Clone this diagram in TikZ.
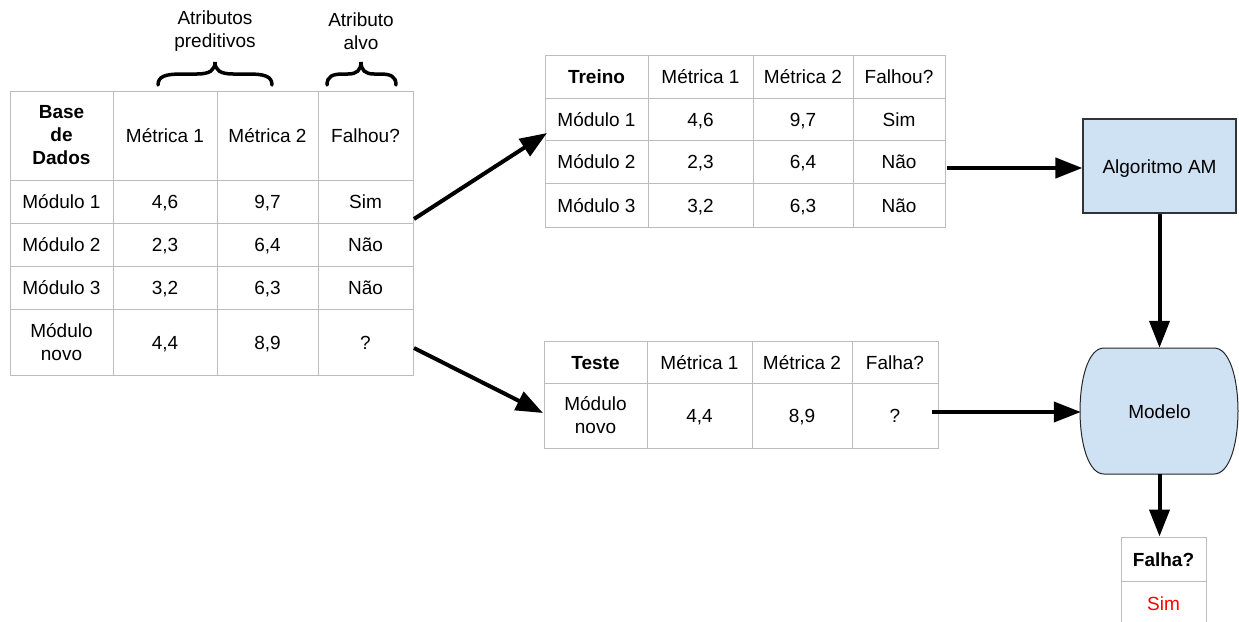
\documentclass[tikz,border=0pt]{standalone}
\usepackage{fontspec}
\setmainfont{Liberation Sans}
\usetikzlibrary{arrows.meta}
\definecolor{tblgray}{RGB}{188,188,188}
\definecolor{boxblue}{RGB}{207,226,243}
\definecolor{redtxt}{RGB}{255,0,0}
\newcommand\tcell[6]{\node[cell, minimum width={(#4-#2)*1pt}, minimum height={(#5-#3)*1pt}] (#1) at ({(#2+#4)/2},{(#3+#5)/2}) {#6};}
\newcommand\mcell[6]{\node[cell, mline, minimum width={(#4-#2)*1pt}, minimum height={(#5-#3)*1pt}] (#1) at ({(#2+#4)/2},{(#3+#5)/2}) {#6};}
\begin{document}
\begin{tikzpicture}[x=1pt,y=-1pt,
  every node/.style={font=\fontsize{19}{23}\selectfont, text=black},
  cell/.style={draw=tblgray, line width=1pt, inner sep=0pt, align=center, anchor=center, text height=14pt, text depth=0pt},
  mline/.style={text height=, text depth=},
  bigarrow/.style={line width=4pt, -{Triangle[length=27pt,width=20pt]}},
  bracestyle/.style={line width=3.5pt, line cap=round},
  labeltext/.style={align=center, inner sep=0pt}
]
\useasboundingbox (0,0) rectangle (1239,621);

% ---- braces and labels
\node[labeltext] (lblpred) at (215,31) {Atributos\\preditivos};
\node[labeltext] (lblalvo) at (361,31) {Atributo\\alvo};
\draw[bracestyle] (158,85) .. controls (158,76) and (166,74) .. (182,74) -- (197,74) .. controls (210,74) and (215,70) .. (215,62) .. controls (215,70) and (220,74) .. (233,74) -- (248,74) .. controls (264,74) and (272,76) .. (272,85);
\draw[bracestyle] (327,85) .. controls (327,76) and (333,74) .. (343,74) -- (348,74) .. controls (357,74) and (361,70) .. (361,62) .. controls (361,70) and (365,74) .. (374,74) -- (380,74) .. controls (390,74) and (396,76) .. (396,85);

% ---- left table (Base de Dados)
\mcell{d00}{10}{91}{113}{180}{\textbf{Base}\\\textbf{de}\\\textbf{Dados}}
\tcell{d01}{113}{91}{217}{180}{Métrica 1}
\tcell{d02}{217}{91}{318}{180}{Métrica 2}
\tcell{d03}{318}{91}{413}{180}{Falhou?}
\tcell{d10}{10}{180}{113}{223}{Módulo 1}
\tcell{d11}{113}{180}{217}{223}{4,6}
\tcell{d12}{217}{180}{318}{223}{9,7}
\tcell{d13}{318}{180}{413}{223}{Sim}
\tcell{d20}{10}{223}{113}{266}{Módulo 2}
\tcell{d21}{113}{223}{217}{266}{2,3}
\tcell{d22}{217}{223}{318}{266}{6,4}
\tcell{d23}{318}{223}{413}{266}{Não}
\tcell{d30}{10}{266}{113}{309}{Módulo 3}
\tcell{d31}{113}{266}{217}{309}{3,2}
\tcell{d32}{217}{266}{318}{309}{6,3}
\tcell{d33}{318}{266}{413}{309}{Não}
\mcell{d40}{10}{309}{113}{375}{Módulo\\novo}
\tcell{d41}{113}{309}{217}{375}{4,4}
\tcell{d42}{217}{309}{318}{375}{8,9}
\tcell{d43}{318}{309}{413}{375}{?}

% ---- training table
\tcell{t00}{545}{55}{648}{98}{\textbf{Treino}}
\tcell{t01}{648}{55}{753}{98}{Métrica 1}
\tcell{t02}{753}{55}{853}{98}{Métrica 2}
\tcell{t03}{853}{55}{945}{98}{Falhou?}
\tcell{t10}{545}{98}{648}{140}{Módulo 1}
\tcell{t11}{648}{98}{753}{140}{4,6}
\tcell{t12}{753}{98}{853}{140}{9,7}
\tcell{t13}{853}{98}{945}{140}{Sim}
\tcell{t20}{545}{140}{648}{183}{Módulo 2}
\tcell{t21}{648}{140}{753}{183}{2,3}
\tcell{t22}{753}{140}{853}{183}{6,4}
\tcell{t23}{853}{140}{945}{183}{Não}
\tcell{t30}{545}{183}{648}{227}{Módulo 3}
\tcell{t31}{648}{183}{753}{227}{3,2}
\tcell{t32}{753}{183}{853}{227}{6,3}
\tcell{t33}{853}{183}{945}{227}{Não}

% ---- test table
\tcell{s00}{544}{341}{647}{383}{\textbf{Teste}}
\tcell{s01}{647}{341}{752}{383}{Métrica 1}
\tcell{s02}{752}{341}{852}{383}{Métrica 2}
\tcell{s03}{852}{341}{938}{383}{Falha?}
\mcell{s10}{544}{383}{647}{448}{Módulo\\novo}
\tcell{s11}{647}{383}{752}{448}{4,4}
\tcell{s12}{752}{383}{852}{448}{8,9}
\tcell{s13}{852}{383}{938}{448}{?}

% ---- Algoritmo AM
\node[draw=black!80, line width=1.2pt, fill=boxblue, minimum width=153pt, minimum height=94pt, inner sep=0pt, text height=14pt, text depth=0pt] (alg) at (1159.5,166) {Algoritmo AM};

% ---- Modelo (barrel shape)
\draw[draw=black!85, line width=1pt, fill=boxblue] (1104,348) -- (1214,348) .. controls (1246,348) and (1246,474) .. (1214,474) -- (1104,474) .. controls (1072,474) and (1072,348) .. (1104,348) -- cycle;
\node[minimum width=157pt, minimum height=126pt, inner sep=0pt, text height=14pt, text depth=0pt] (modelo) at (1159.5,411) {Modelo};

% ---- Falha? result box
\tcell{f0}{1121}{537}{1206}{581}{\textbf{Falha?}}
\draw[tblgray, line width=1pt] (1121,581) -- (1121,630) (1206,581) -- (1206,630);
\node[inner sep=0pt, text height=14pt, text depth=0pt] (fsim) at (1163.5,603) {\textcolor{redtxt}{Sim}};

% ---- connectors
\coordinate (a1s) at (414,219);
\coordinate (a1e) at (547,133);
\coordinate (a2s) at (414,348);
\coordinate (a2e) at (543,413);
\coordinate (a3s) at (947,168);
\coordinate (a5s) at (932,412);
\draw[bigarrow] (a1s) -- (a1e);
\draw[bigarrow] (a2s) -- (a2e);
\draw[bigarrow] (a3s) -- (a3s -| alg.west);
\draw[bigarrow] (alg.south) -- (modelo.north);
\draw[bigarrow] (a5s) -- (a5s -| modelo.west);
\draw[bigarrow] (modelo.south) -- (modelo.south |- f0.north);
\end{tikzpicture}
\end{document}
